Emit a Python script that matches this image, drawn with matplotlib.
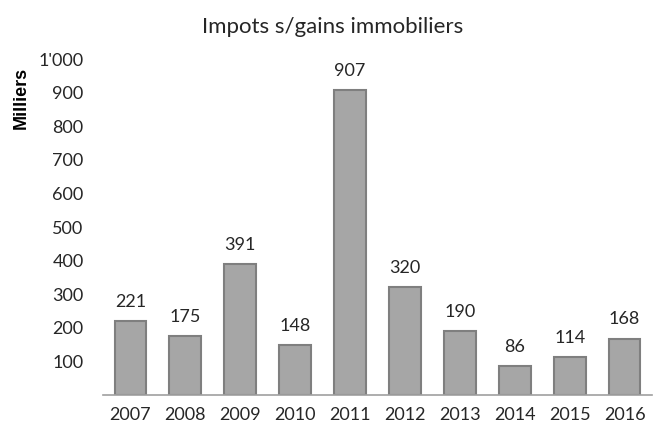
import matplotlib.pyplot as plt
import numpy as np

years = ['2007', '2008', '2009', '2010', '2011', '2012', '2013', '2014', '2015', '2016']
values = [221, 175, 391, 148, 907, 320, 190, 86, 114, 168]
y_ticks = [100, 200, 300, 400, 500, 600, 700, 800, 900, 1000]
y_tick_labels = ['100', '200', '300', '400', '500', '600', '700', '800', '900', "1'000"]

plt.rcParams['font.family'] = ['Lato', 'DejaVu Sans']

fig = plt.figure(figsize=(6.66, 4.34), dpi=100)
ax = fig.add_axes([0.1547, 0.0899, 0.8243, 0.7741])

x = np.arange(len(years))
bars = ax.bar(x, values, width=0.58, color='#a6a6a6', edgecolor='#7f7f7f', linewidth=1.5)

for xi, v in zip(x, values):
    ax.annotate(str(v), (xi, v), xytext=(0, 8), textcoords='offset points',
                ha='center', va='bottom', fontsize=13, color='#262626')

ax.set_xlim(-0.5, len(years) - 0.5)
ax.set_ylim(0, 1000)
ax.set_xticks(x)
ax.set_xticklabels(years, fontsize=13, color='#262626')
ax.set_yticks(y_ticks)
ax.set_yticklabels(y_tick_labels, fontsize=13, color='#262626')
ax.tick_params(axis='both', length=0)
ax.tick_params(axis='y', pad=14)
ax.tick_params(axis='x', pad=9)

for side in ['top', 'right', 'left']:
    ax.spines[side].set_visible(False)
ax.spines['bottom'].set_color('#a0a0a0')
ax.spines['bottom'].set_linewidth(1.2)

fig.text(0.5, 0.938, 'Impots s/gains immobiliers', ha='center', va='center',
         fontsize=16, color='#262626')
fig.text(0.032, 0.774, 'Milliers', rotation=90, ha='center', va='center',
         fontsize=13, fontweight='bold', color='black', family=['Liberation Sans', 'DejaVu Sans'])

fig.savefig('out.png', dpi=100)
